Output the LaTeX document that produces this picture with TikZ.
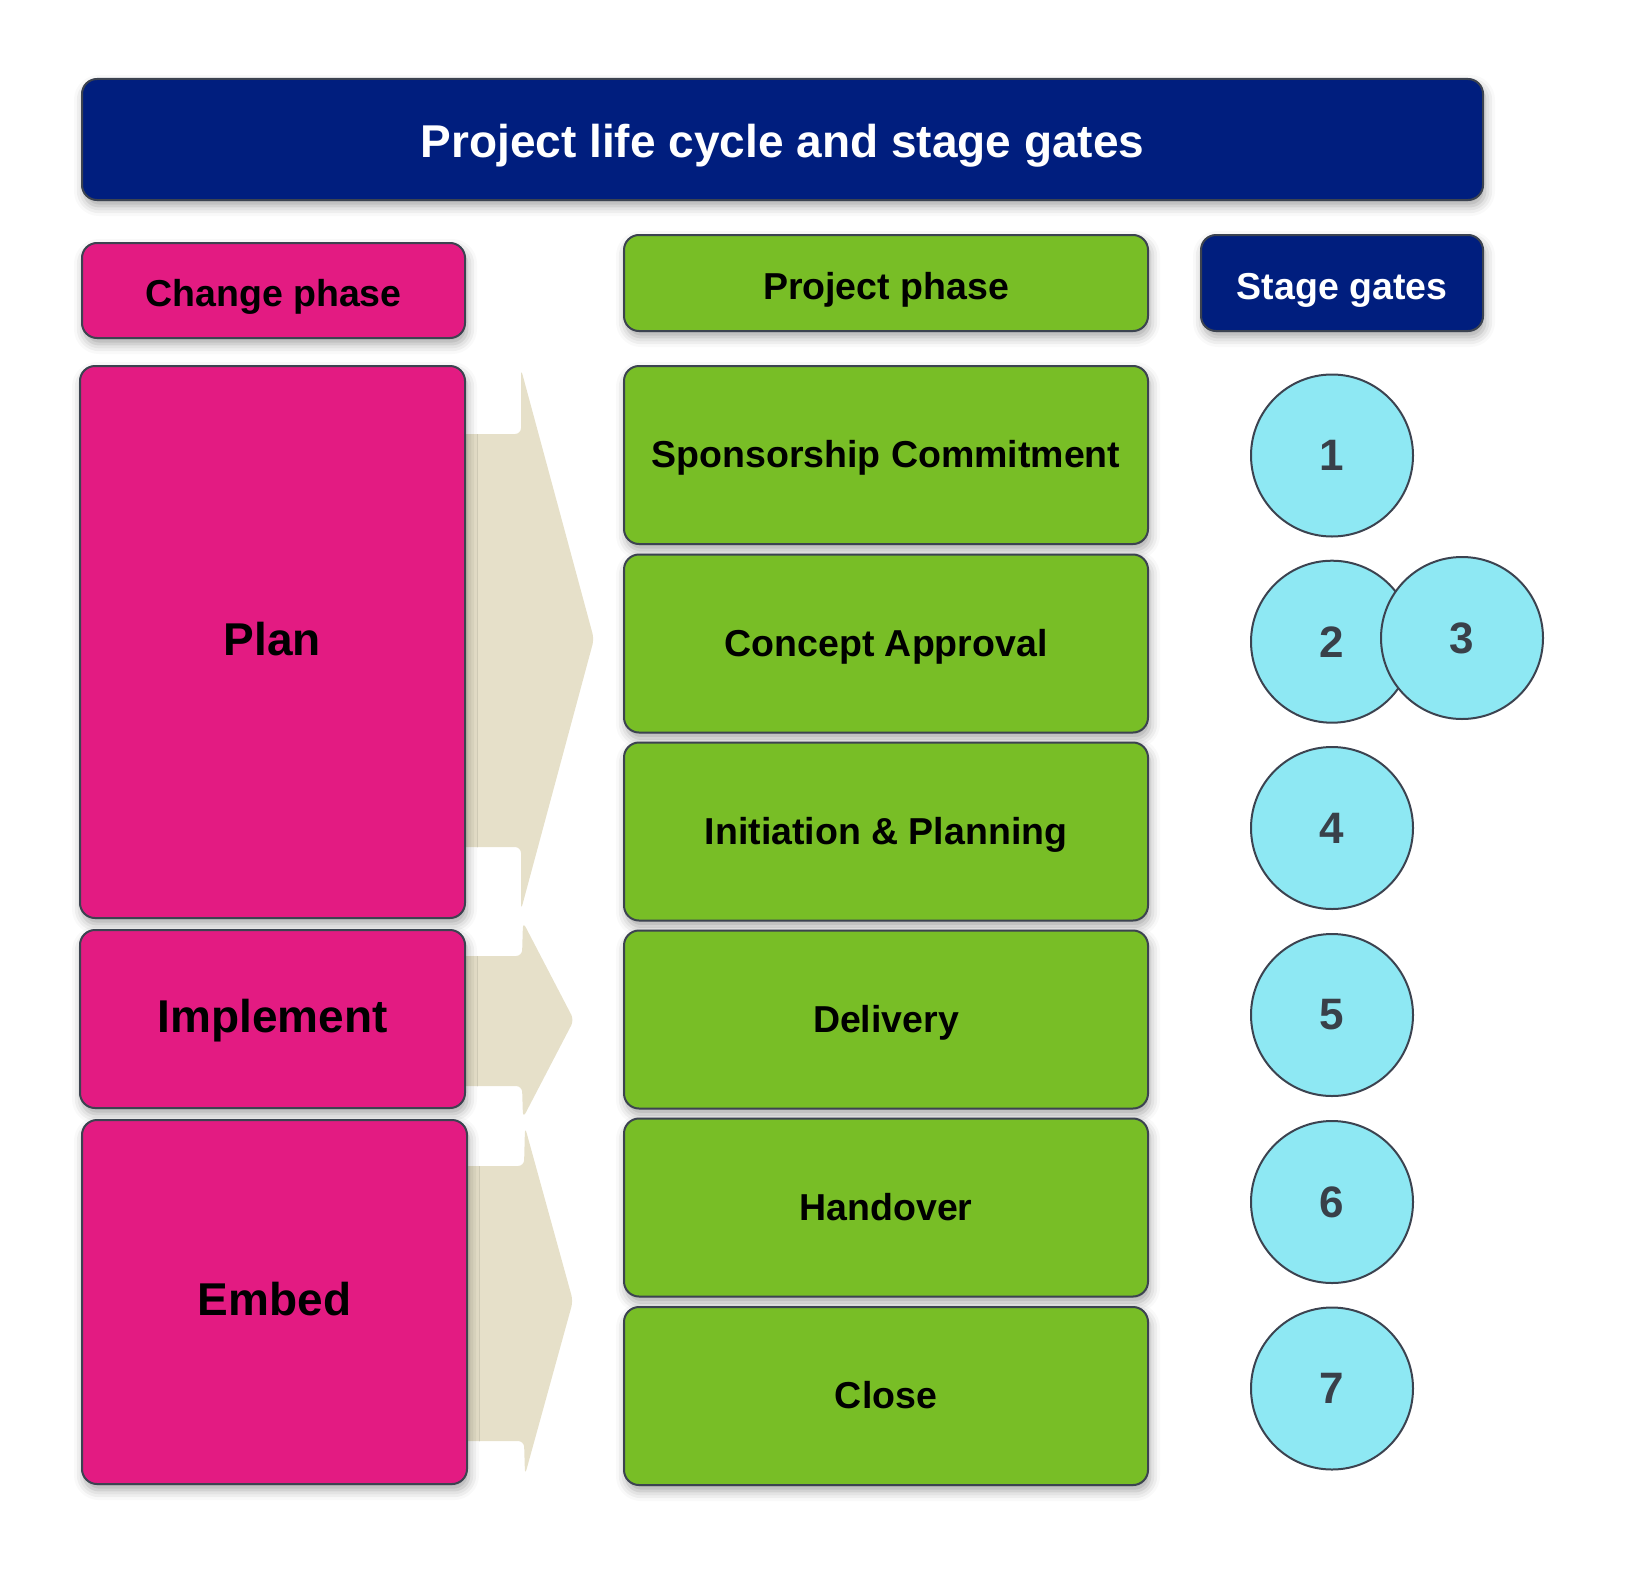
\documentclass[tikz,border=0pt]{standalone}
\usepackage{fontspec}
\setmainfont{Liberation Sans}
\usetikzlibrary{shadows.blur}
\definecolor{navyc}{HTML}{001E7E}
\definecolor{pinkc}{HTML}{E31B82}
\definecolor{greenc}{HTML}{78BE26}
\definecolor{cyanc}{HTML}{8EE8F3}
\definecolor{beigec}{HTML}{E6E0C9}
\definecolor{edgec}{HTML}{3C4350}
\definecolor{numc}{HTML}{394049}
\begin{document}
\begin{tikzpicture}[x=0.5pt,y=-0.5pt,
  sh/.style={blur shadow={shadow xshift=1pt,shadow yshift=-3pt,shadow blur radius=5pt,shadow opacity=35}},
  box/.style={draw=edgec,line width=1pt,rounded corners=7.5pt,sh,inner sep=0pt,align=center},
  bigtxt/.style={font=\fontsize{23pt}{27pt}\selectfont\bfseries,text height=17.3pt,text depth=3.5pt},
  titletxt/.style={font=\fontsize{23pt}{27pt}\selectfont\bfseries,text height=21.3pt,text depth=3.5pt},
  midtxt/.style={font=\fontsize{18.75pt}{22pt}\selectfont\bfseries,text height=15.6pt,text depth=2.8pt},
  hdrtxt/.style={font=\fontsize{18.75pt}{22pt}\selectfont\bfseries,text height=19pt,text depth=2.8pt},
  navybox/.style={box,fill=navyc,text=white},
  pinkbox/.style={box,fill=pinkc,text=black,minimum width=192.5pt},
  greenbox/.style={box,fill=greenc,text=black,midtxt,minimum width=262pt,minimum height=89pt},
  gate/.style={circle,draw=edgec,line width=1pt,fill=cyanc,text=numc,inner sep=0pt,minimum size=81pt,font=\fontsize{22pt}{26pt}\selectfont\bfseries},
  arrowshape/.style={fill=beigec,rounded corners=3pt}
]
\useasboundingbox (0,0) rectangle (1626,1568);

% chevron arrows (behind the pink boxes)
\path[arrowshape] (440,434) -- (521,434) -- (521,369) -- (594,639) -- (521,910) -- (521,847) -- (440,847) -- cycle;
\path[arrowshape] (440,956) -- (522,956) -- (523,922) -- (574,1020) -- (523,1118) -- (522,1086) -- (440,1086) -- cycle;
\path[arrowshape] (440,1166) -- (524,1166) -- (525,1127) -- (573,1301) -- (525,1475) -- (524,1441) -- (440,1441) -- cycle;

% title
\node[navybox,titletxt,minimum width=700.5pt,minimum height=60.5pt] (title) at (782.5,139.5) {Project life cycle and stage gates};

% headers
\node[pinkbox,hdrtxt,minimum height=47.5pt,minimum width=191.5pt] (change) at (273.5,290.5) {Change phase};
\node[box,fill=greenc,hdrtxt,minimum width=262pt,minimum height=48pt] (projhead) at (886,283) {Project phase};
\node[navybox,hdrtxt,minimum width=141pt,minimum height=48pt] (gatehead) at (1342,283) {Stage gates};

% change phases
\node[pinkbox,bigtxt,minimum height=276pt] (plan) at (272.5,642) {Plan};
\node[pinkbox,bigtxt,minimum height=89pt] (implement) at (272.5,1019) {Implement};
\node[pinkbox,bigtxt,minimum height=182pt] (embed) at (274.5,1302) {Embed};

% project phases
\node[greenbox] (p1) at (886,455) {Sponsorship Commitment};
\node[greenbox] (p2) at (886,643.5) {Concept Approval};
\node[greenbox] (p3) at (886,831.5) {Initiation \& Planning};
\node[greenbox] (p4) at (886,1019.5) {Delivery};
\node[greenbox] (p5) at (886,1207.5) {Handover};
\node[greenbox] (p6) at (886,1396) {Close};

% stage gates
\node[gate] (g1) at (1332,455.5) {1};
\node[gate] (g2) at (1332,641.7) {2};
\node[gate] (g3) at (1462,638) {3};
\node[gate] (g4) at (1332,828) {4};
\node[gate] (g5) at (1332,1015) {5};
\node[gate] (g6) at (1332,1202) {6};
\node[gate] (g7) at (1332,1388.5) {7};
\end{tikzpicture}
\end{document}
